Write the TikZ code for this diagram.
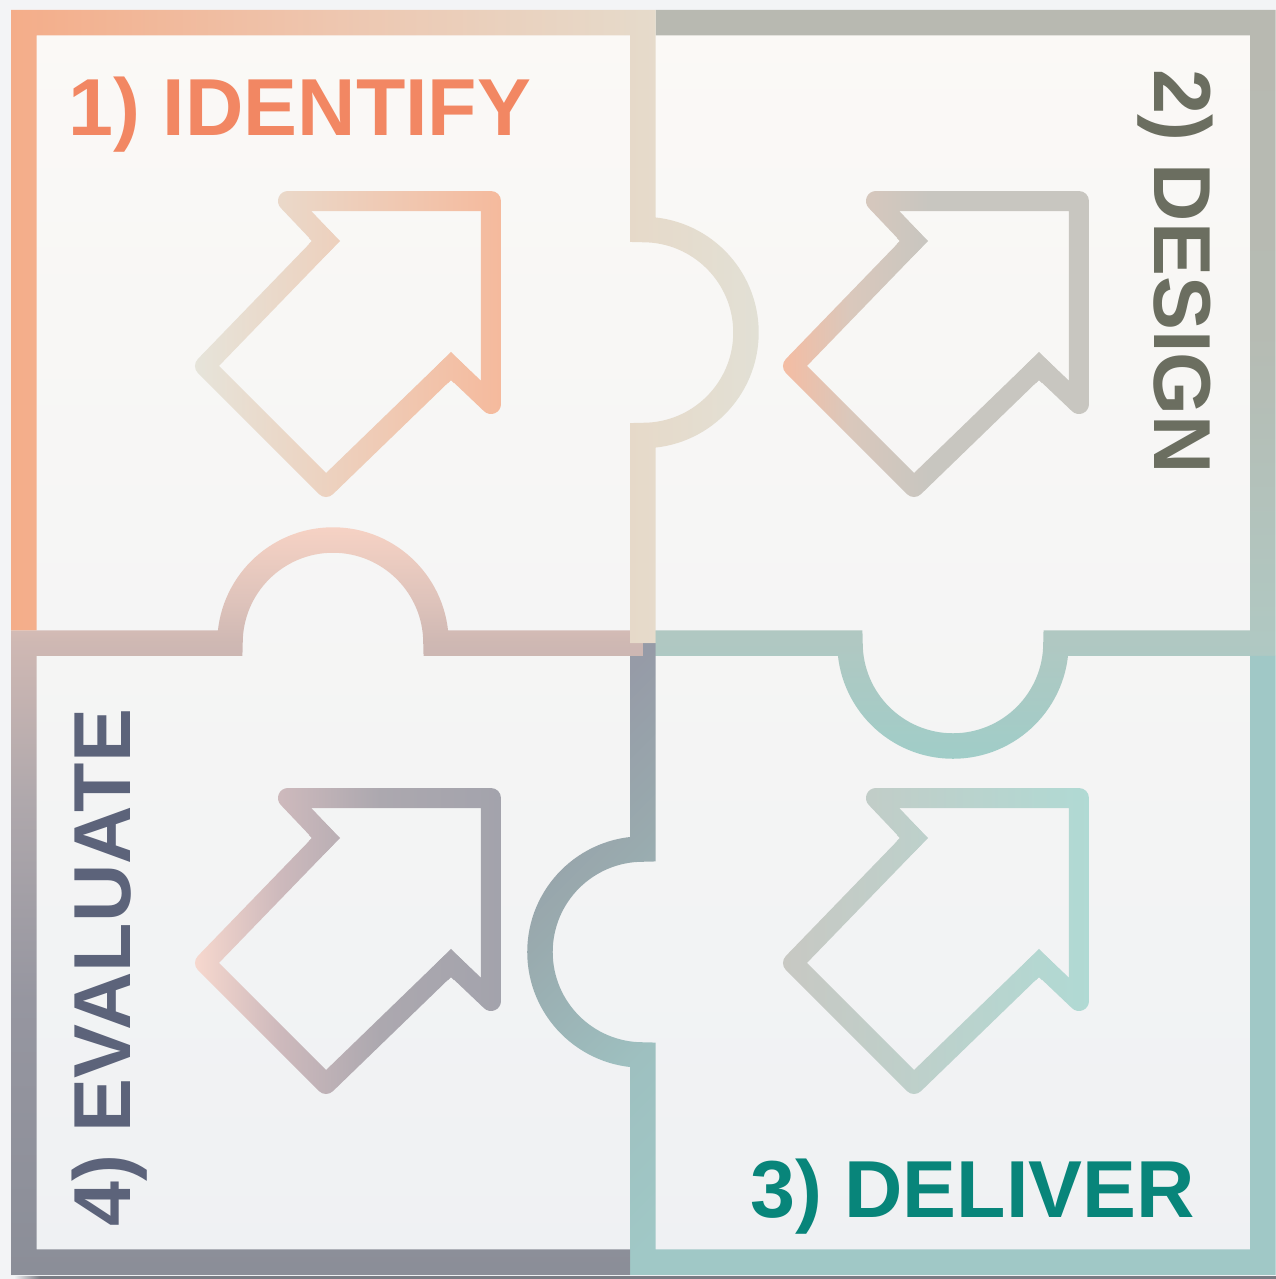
\documentclass[tikz,border=0pt]{standalone}
\usepackage{fontspec}
\setmainfont{Liberation Sans}
\usetikzlibrary{fadings}

\definecolor{pagebg}{RGB}{243,244,246}
\definecolor{shadowcol}{RGB}{121,124,132}
\definecolor{fillTop}{RGB}{251,249,246}
\definecolor{fillBot}{RGB}{239,241,243}
\definecolor{colIdentify}{RGB}{242,135,99}
\definecolor{colDesign}{RGB}{107,110,96}
\definecolor{colDeliver}{RGB}{8,133,122}
\definecolor{colEvaluate}{RGB}{92,99,122}

% seam colours, one ramp per piece
\definecolor{oneA}{RGB}{244,173,137}
\definecolor{oneB}{RGB}{238,198,175}
\definecolor{oneC}{RGB}{230,218,202}
\definecolor{oneD}{RGB}{226,224,213}
\definecolor{twoA}{RGB}{184,185,177}
\definecolor{twoB}{RGB}{182,187,179}
\definecolor{twoC}{RGB}{176,200,194}
\definecolor{twoD}{RGB}{160,205,200}
\definecolor{threeA}{RGB}{150,155,167}
\definecolor{threeB}{RGB}{153,170,174}
\definecolor{threeC}{RGB}{158,192,192}
\definecolor{threeD}{RGB}{160,200,198}
\definecolor{fourA}{RGB}{246,210,196}
\definecolor{fourB}{RGB}{222,195,187}
\definecolor{fourC}{RGB}{207,184,179}
\definecolor{fourD}{RGB}{175,168,172}
\definecolor{fourE}{RGB}{150,150,160}
\definecolor{fourF}{RGB}{139,142,152}
% arrow colours
\definecolor{arrA}{RGB}{230,228,218}
\definecolor{arrB}{RGB}{245,186,157}
\definecolor{arrC}{RGB}{245,188,162}
\definecolor{arrD}{RGB}{218,200,188}
\definecolor{arrE}{RGB}{200,198,192}
\definecolor{arrF}{RGB}{247,216,206}
\definecolor{arrG}{RGB}{205,185,188}
\definecolor{arrH}{RGB}{172,168,175}
\definecolor{arrI}{RGB}{163,163,172}
\definecolor{arrJ}{RGB}{200,200,195}
\definecolor{arrK}{RGB}{176,218,212}

% the canvas runs from 25bp to 75bp of each ramp
\pgfdeclarehorizontalshading{oneramp}{100bp}{color(0bp)=(oneA); color(25.4bp)=(oneA); color(37.9bp)=(oneB); color(50.2bp)=(oneC); color(54.8bp)=(oneD); color(100bp)=(oneD)}
\pgfdeclareverticalshading{tworamp}{100bp}{color(0bp)=(twoD); color(45.3bp)=(twoD); color(49.9bp)=(twoC); color(62.1bp)=(twoB); color(74.6bp)=(twoA); color(100bp)=(twoA)}
\pgfdeclareverticalshading{threeramp}{100bp}{color(0bp)=(threeD); color(32.8bp)=(threeD); color(38.3bp)=(threeC); color(44.4bp)=(threeB); color(49.4bp)=(threeA); color(100bp)=(threeA)}
\pgfdeclareverticalshading{fourramp}{100bp}{color(0bp)=(fourF); color(25.2bp)=(fourF); color(35.9bp)=(fourE); color(43.7bp)=(fourD); color(49.9bp)=(fourC); color(51.5bp)=(fourB); color(54.4bp)=(fourA); color(100bp)=(fourA)}
\pgfdeclarehorizontalshading{toparrows}{100bp}{color(0bp)=(arrA); color(32.6bp)=(arrA); color(44.6bp)=(arrB); color(55.6bp)=(arrC); color(58.3bp)=(arrD); color(61.4bp)=(arrE); color(100bp)=(arrE)}
\pgfdeclarehorizontalshading{lowarrows}{100bp}{color(0bp)=(arrF); color(32.6bp)=(arrF); color(36bp)=(arrG); color(39.9bp)=(arrH); color(44.6bp)=(arrI); color(55.6bp)=(arrJ); color(67.8bp)=(arrK); color(100bp)=(arrK)}

\tikzset{
  pixels/.style={shift={(-638,-639.5)}},
  seam/.style={line width=2.55mm},
  arrowline/.style={line width=2mm, line join=round},
  notchline/.style={line width=2mm, line join=miter},
  steplabel/.style={font=\fontsize{23}{27}\selectfont\bfseries, inner sep=0pt},
  ramp/.style={shading=#1, fit fading=false}
}

% each piece keeps three of its sides
\begin{tikzfadingfrompicture}[name=pieceone, x=0.1mm, y=-0.1mm]
  \useasboundingbox (-638,-639.5) rectangle (638,639.5);
  \draw[pixels, seam, transparent!0] (24,630.25) -- (24,22.5) -- (643,22.5) -- (643,229.5)
    arc[start angle=-90, end angle=90, radius=103] -- (643,643);
\end{tikzfadingfrompicture}
\begin{tikzfadingfrompicture}[name=piecetwo, x=0.1mm, y=-0.1mm]
  \useasboundingbox (-638,-639.5) rectangle (638,639.5);
  \draw[pixels, seam, transparent!0] (655.75,22.5) -- (1263,22.5) -- (1263,643) -- (1056,643)
    arc[start angle=0, end angle=180, radius=103] -- (643,643);
\end{tikzfadingfrompicture}
\begin{tikzfadingfrompicture}[name=piecethree, x=0.1mm, y=-0.1mm]
  \useasboundingbox (-638,-639.5) rectangle (638,639.5);
  \draw[pixels, seam, transparent!0] (1263,655.75) -- (1263,1262) -- (643,1262) -- (643,1055)
    arc[start angle=90, end angle=270, radius=103] -- (643,643);
\end{tikzfadingfrompicture}
\begin{tikzfadingfrompicture}[name=piecefour, x=0.1mm, y=-0.1mm]
  \useasboundingbox (-638,-639.5) rectangle (638,639.5);
  \draw[pixels, seam, transparent!0] (643,643) -- (436,643)
    arc[start angle=0, end angle=-180, radius=103] -- (24,643) -- (24,1262) -- (630.25,1262);
\end{tikzfadingfrompicture}
% arrows, upper row and lower row
\begin{tikzfadingfrompicture}[name=arrowsup, x=0.1mm, y=-0.1mm]
  \useasboundingbox (-638,-639.5) rectangle (638,639.5);
  \foreach \dx in {0,588} {
    \draw[pixels, arrowline, transparent!0, xshift=\dx*0.1mm] (288,201) -- (491,201) -- (491,404)
      -- (451,366) -- (326,487) -- (205,366) -- (326,241) -- cycle;
    \draw[pixels, notchline, transparent!0, xshift=\dx*0.1mm] (316,231) -- (326,241) -- (316,251);
    \draw[pixels, notchline, transparent!0, xshift=\dx*0.1mm] (461,376) -- (451,366) -- (441,376);
  }
\end{tikzfadingfrompicture}
\begin{tikzfadingfrompicture}[name=arrowsdown, x=0.1mm, y=-0.1mm]
  \useasboundingbox (-638,-639.5) rectangle (638,639.5);
  \foreach \dx in {0,588} {
    \draw[pixels, arrowline, transparent!0, xshift=\dx*0.1mm, yshift=-59.7mm] (288,201) -- (491,201) -- (491,404)
      -- (451,366) -- (326,487) -- (205,366) -- (326,241) -- cycle;
    \draw[pixels, notchline, transparent!0, xshift=\dx*0.1mm, yshift=-59.7mm] (316,231) -- (326,241) -- (316,251);
    \draw[pixels, notchline, transparent!0, xshift=\dx*0.1mm, yshift=-59.7mm] (461,376) -- (451,366) -- (441,376);
  }
\end{tikzfadingfrompicture}

\begin{document}
\begin{tikzpicture}[x=0.1mm, y=-0.1mm]
  \useasboundingbox (-638,-639.5) rectangle (638,639.5);
  \begin{scope}[pixels]
    \fill[pagebg] (0,0) rectangle (1276,1279);
    \fill[shadowcol] (40,1275) rectangle (1276,1279);
    \shade[left color=pagebg, right color=shadowcol] (14,1275) rectangle (40,1279);
    \shade[top color=fillTop, bottom color=fillBot] (11,10) rectangle (1276,1275);
  \end{scope}

  % seams
  \shade[ramp=tworamp, path fading=piecetwo] (-638,-639.5) rectangle (638,639.5);
  \shade[ramp=threeramp, shading angle=45, path fading=piecethree] (-638,-639.5) rectangle (638,639.5);
  \shade[ramp=fourramp, path fading=piecefour] (-638,-639.5) rectangle (638,639.5);
  \shade[ramp=oneramp, path fading=pieceone] (-638,-639.5) rectangle (638,639.5);

  % arrows
  \shade[ramp=toparrows, path fading=arrowsup] (-638,-639.5) rectangle (638,639.5);
  \shade[ramp=lowarrows, path fading=arrowsdown] (-638,-639.5) rectangle (638,639.5);

  \begin{scope}[pixels]
    \node[steplabel, text=colIdentify, anchor=base west] (identify) at (68,135) {1) IDENTIFY};
    \node[steplabel, text=colDesign, anchor=base west, rotate=-90] (design) at (1154.5,69) {2) DESIGN};
    \node[steplabel, text=colDeliver, anchor=base west] (deliver) at (749.5,1217.5) {3) DELIVER};
    \node[steplabel, text=colEvaluate, anchor=base west, rotate=90] (evaluate) at (130.5,1227.5) {4) EVALUATE};
  \end{scope}
\end{tikzpicture}
\end{document}
